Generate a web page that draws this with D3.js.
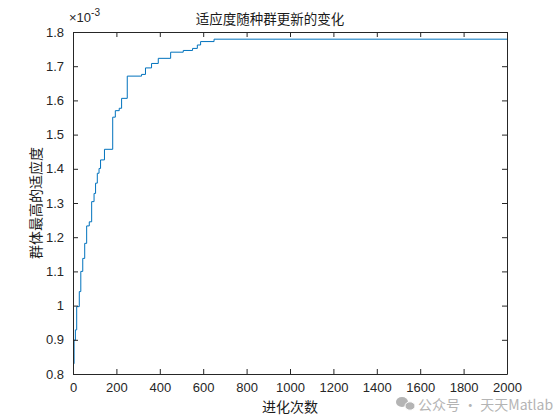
<!DOCTYPE html>
<html>
<head>
<meta charset="utf-8">
<script src="https://cdn.jsdelivr.net/npm/d3@7"></script>
<style>
html,body{margin:0;padding:0;background:#fff;}
svg{display:block;}
</style>
</head>
<body>
<svg id="c" width="560" height="420"></svg>
<script>
// Data (fitness values in units of 1e-3), step changes at these iterations
const iterations = [0, 5, 11, 17, 29, 36, 45, 54, 63, 75, 86, 97, 104, 112, 120, 127, 145, 183, 195, 213, 224, 250, 316, 334, 362, 393, 450, 508, 551, 573, 588, 650, 2000];
const fitness    = [0.83, 0.899, 0.929, 0.997, 1.041, 1.10, 1.138, 1.182, 1.233, 1.245, 1.304, 1.328, 1.358, 1.387, 1.401, 1.426, 1.457, 1.551, 1.570, 1.577, 1.606, 1.671, 1.676, 1.695, 1.708, 1.723, 1.741, 1.746, 1.752, 1.762, 1.772, 1.779, 1.779];
const xTicks = [0, 200, 400, 600, 800, 1000, 1200, 1400, 1600, 1800, 2000];
const yTicks = [0.8, 0.9, 1.0, 1.1, 1.2, 1.3, 1.4, 1.5, 1.6, 1.7, 1.8];
const yTickLabels = ["0.8", "0.9", "1", "1.1", "1.2", "1.3", "1.4", "1.5", "1.6", "1.7", "1.8"];
const titleText = "适应度随种群更新的变化";
const xLabelText = "进化次数";
const yLabelText = "群体最高的适应度";

const svg = d3.select("#c");
const L = 73, R = 507, T = 32, B = 374;
const x = d3.scaleLinear().domain([0, 2000]).range([L, R]);
const y = d3.scaleLinear().domain([0.8, 1.8]).range([B, T]);
const axisColor = "#262626";
const font = "'Liberation Sans', Arial, Helvetica, sans-serif";
const cjk = "'Noto Sans CJK SC', sans-serif";

svg.append("rect").attr("x", L).attr("y", T).attr("width", R - L).attr("height", B - T)
  .attr("fill", "#fff").attr("stroke", "none");

const data = iterations.map((d, i) => [d, fitness[i]]);
svg.append("path").datum(data)
  .attr("fill", "none").attr("stroke", "#0072BD").attr("stroke-width", 1)
  .attr("d", d3.line().x(d => x(d[0])).y(d => y(d[1])).curve(d3.curveStepAfter));

const tl = 5;
const gx = svg.append("g").attr("transform", `translate(0,${B})`)
  .call(d3.axisBottom(x).tickValues(xTicks).tickSizeInner(-tl).tickSizeOuter(0).tickPadding(9).tickFormat(d3.format("d")));
const gxt = svg.append("g").attr("transform", `translate(0,${T})`)
  .call(d3.axisTop(x).tickValues(xTicks).tickSizeInner(-tl).tickSizeOuter(0).tickFormat(""));
const gy = svg.append("g").attr("transform", `translate(${L},0)`)
  .call(d3.axisLeft(y).tickValues(yTicks).tickSizeInner(-tl).tickSizeOuter(0).tickPadding(9).tickFormat((d, i) => yTickLabels[i]));
const gyr = svg.append("g").attr("transform", `translate(${R},0)`)
  .call(d3.axisRight(y).tickValues(yTicks).tickSizeInner(-tl).tickSizeOuter(0).tickFormat(""));

[gx, gxt, gy, gyr].forEach(g => {
  g.select(".domain").attr("stroke", axisColor).attr("stroke-width", 1);
  g.selectAll(".tick line").attr("stroke", axisColor).attr("stroke-width", 1);
  g.selectAll(".tick text").attr("fill", axisColor).style("font-family", font).style("font-size", "13px");
});

const ex = svg.append("text").attr("x", 69).attr("y", 22).attr("fill", axisColor)
  .style("font-family", font).style("font-size", "13px");
ex.append("tspan").text("×10");
ex.append("tspan").attr("dy", -6).style("font-size", "10px").text("-3");

svg.append("text").attr("x", 270).attr("y", 24).attr("text-anchor", "middle")
  .attr("fill", "#1a1a1a").style("font-family", cjk).style("font-size", "13.5px").text(titleText);

svg.append("text").attr("x", 290).attr("y", 412).attr("text-anchor", "middle")
  .attr("fill", "#1a1a1a").style("font-family", cjk).style("font-size", "14px").text(xLabelText);

svg.append("text").attr("transform", `translate(41,${(T + B) / 2}) rotate(-90)`).attr("text-anchor", "middle")
  .attr("fill", "#1a1a1a").style("font-family", cjk).style("font-size", "14px").text(yLabelText);

const wm = svg.append("g").attr("fill", "#b4b4b4");
wm.append("ellipse").attr("cx", 402).attr("cy", 402).attr("rx", 6).attr("ry", 5);
wm.append("ellipse").attr("cx", 410).attr("cy", 406).attr("rx", 5).attr("ry", 4.2).attr("stroke", "#fff").attr("stroke-width", 1);
wm.append("text").attr("x", 418).attr("y", 410).style("font-family", cjk).style("font-size", "14px")
  .text("公众号 · 天天Matlab");
</script>
</body>
</html>
